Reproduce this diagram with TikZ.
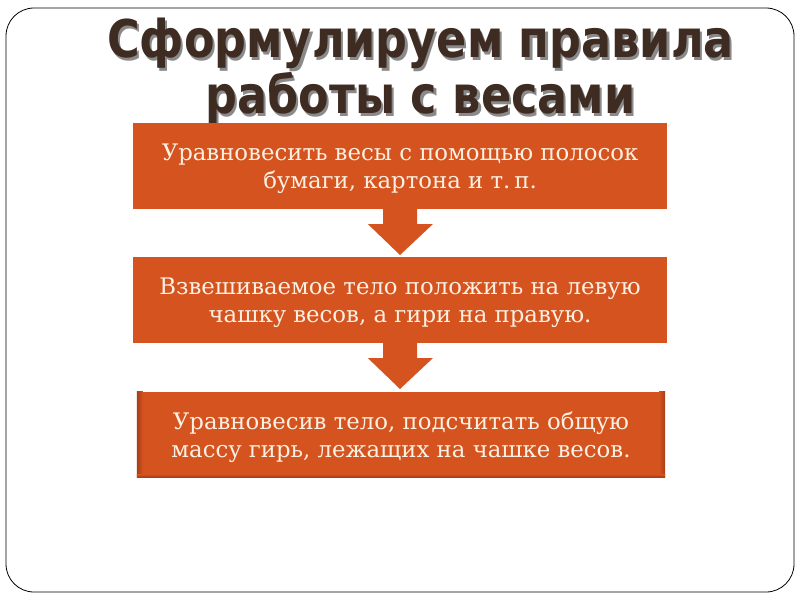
\documentclass[tikz,border=0pt]{standalone}
\usepackage{fontspec}
\setmainfont{DejaVu Serif}
\newfontfamily\titlefont{DejaVu Sans}
\usetikzlibrary{shadings}
\definecolor{boxor}{HTML}{D4531F}
\definecolor{boxdark}{HTML}{A63E14}
\definecolor{txtcream}{HTML}{FBF0E2}
\definecolor{titlebrown}{HTML}{3E2C22}
\definecolor{titleshadow}{HTML}{8A8A8A}
\newcommand{\shadowtext}[1]{\makebox[0pt][l]{\hspace{2.5pt}\raisebox{-2.5pt}{\textcolor{titleshadow}{#1}}}\textcolor{titlebrown}{#1}}
\tikzset{
  stepbox/.style={fill=boxor, draw=none, minimum width=534pt, minimum height=86pt, inner sep=0pt},
  steptext/.style={text=txtcream, align=center, font=\fontsize{22.8}{28}\selectfont},
  titletext/.style={font=\titlefont\bfseries\fontsize{52}{47}\selectfont, align=center, inner sep=0pt, anchor=north},
  downarrow/.style={fill=boxor, draw=none}
}
\begin{document}
\begin{tikzpicture}[x=1pt,y=-1pt]
\useasboundingbox (0,0) rectangle (800,600);
\fill[white] (0,0) rectangle (800,600);
\draw[black, line width=0.8pt, rounded corners=28pt] (6,8) rectangle (794,592);
% title
\node[titletext] (t) at (420.5,18) {\scalebox{0.857}[1]{\shadowtext{Сформулируем правила}}\\\scalebox{0.857}[1]{\shadowtext{работы с весами}}};
% boxes
\node[stepbox] (b1) at (400,166) {};
\node[stepbox] (b2) at (400,300) {};
\node[stepbox, minimum width=528pt, minimum height=85pt] (b3) at (401,434.5) {};
\shade[left color=boxdark, right color=boxor] (b3.north west) rectangle ++(6,85);
\shade[left color=boxor, right color=boxdark] (b3.north east) ++(-6,0) rectangle ++(6,85);
\shade[top color=boxor, bottom color=boxdark] (b3.south west) ++(0,-3) rectangle (b3.south east);
\node[steptext] (s1) at ([yshift=-2.5pt]b1.center) {Уравновесить весы с помощью полосок\\бумаги, картона и т.\,п.};
\node[steptext] (s2) at ([yshift=-2.5pt]b2.center) {Взвешиваемое тело положить на левую\\чашку весов, а гири на правую.};
\node[steptext] (s3) at ([yshift=-2.5pt]b3.center) {Уравновесив тело, подсчитать общую\\массу гирь, лежащих на чашке весов.};
% arrows
\fill[downarrow] (b1.south) ++(-17,0) -- ++(0,15) -- ++(-15,0) -- (400,255) -- (433,224) -- (417,224) -- (417,209) -- cycle;
\fill[downarrow] (b2.south) ++(-17,0) -- ++(0,15) -- ++(-15,0) -- (400,389) -- (433,358) -- (417,358) -- (417,343) -- cycle;
\end{tikzpicture}
\end{document}
